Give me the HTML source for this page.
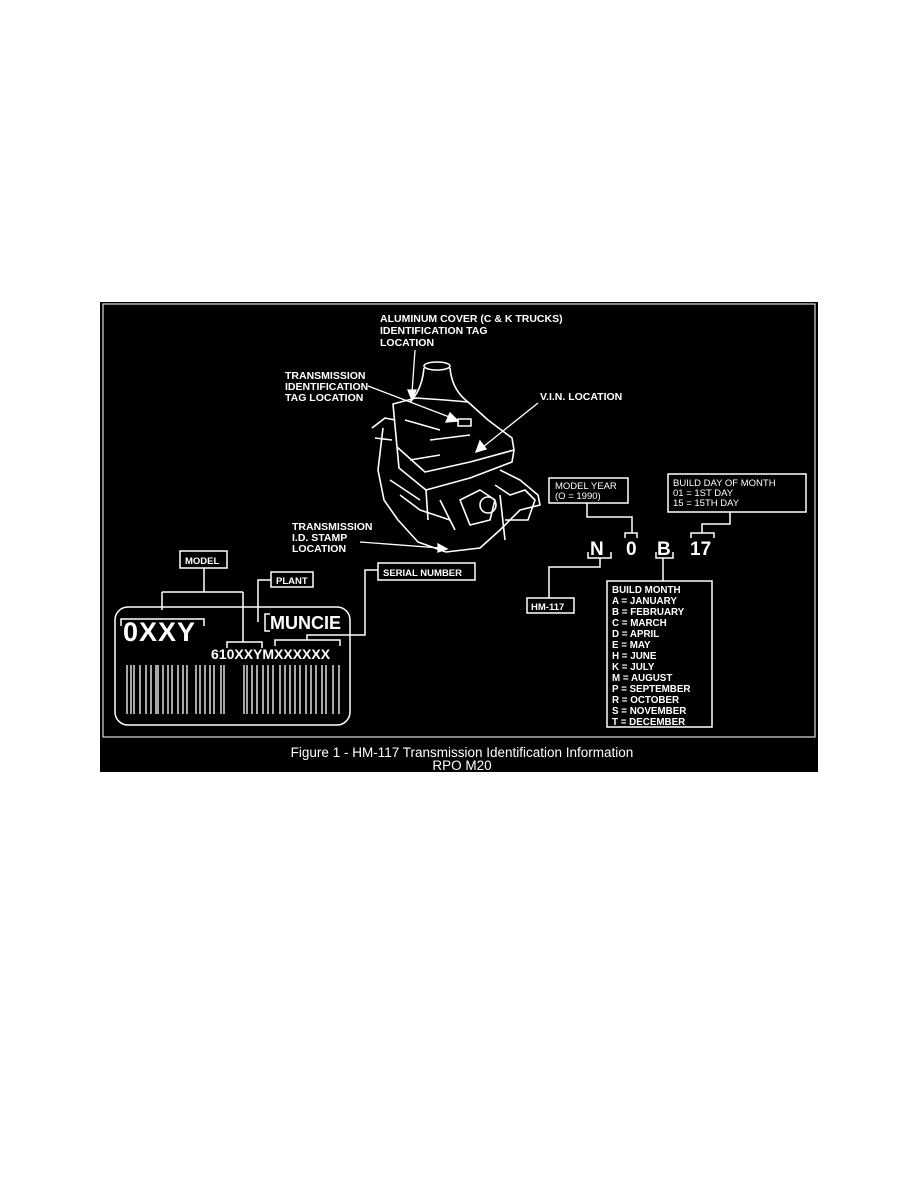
<!DOCTYPE html>
<html><head><meta charset="utf-8">
<style>
html,body{margin:0;padding:0;background:#fff;width:918px;height:1188px;overflow:hidden}
svg{position:absolute;left:0;top:0}
text{font-family:"Liberation Sans",Arial,sans-serif;fill:#fff}
</style></head><body>
<svg width="918" height="1188" viewBox="0 0 918 1188">
<rect x="100" y="302" width="718" height="470" fill="#000"/>
<g fill="none" stroke="#fff">
<rect x="103" y="304" width="712" height="433" stroke-width="1.2" stroke="#ddd"/>
</g>
<g font-size="10.5" font-weight="bold">
<text x="380" y="322">ALUMINUM COVER (C &amp; K TRUCKS)</text>
<text x="380" y="334">IDENTIFICATION TAG</text>
<text x="380" y="346">LOCATION</text>
<text x="285" y="379">TRANSMISSION</text>
<text x="285" y="390">IDENTIFICATION</text>
<text x="285" y="401">TAG LOCATION</text>
<text x="540" y="400">V.I.N. LOCATION</text>
<text x="292" y="530">TRANSMISSION</text>
<text x="292" y="541">I.D. STAMP</text>
<text x="292" y="552">LOCATION</text>
</g>
<g fill="none" stroke="#fff" stroke-width="1.6" stroke-linejoin="round">
<ellipse cx="437" cy="366" rx="13" ry="4"/>
<path d="M424 368 Q422 390 410 402 M450 368 Q452 390 468 402"/>
<path d="M393 404 L416 398 L445 400 L468 402 L488 420 L512 438 L514 450 L470 462 L425 472 L397 447 Z"/>
<path d="M397 447 L399 468 L426 490 L470 478 L512 462 L514 450"/>
<path d="M426 490 L428 520"/>
<path d="M383 428 L378 470 L384 500 L398 520 L418 542 L446 552 L480 548 L500 530 L520 510 L540 505 L538 495 L520 480 L500 470"/>
<path d="M372 428 L385 418 L395 420 M375 438 L392 440"/>
<path d="M460 500 L480 490 L495 500 L490 520 L470 525 Z"/>
<path d="M495 485 L510 495 L525 490 L535 500 L528 520 L505 520"/>
<path d="M400 495 L420 510 L450 520"/>
<path d="M405 420 L440 430 M430 440 L470 435 M410 460 L440 455 M390 480 L420 500 M440 500 L455 530 M500 495 L505 540"/>
<circle cx="488" cy="505" r="8"/>
<rect x="458" y="419" width="13" height="7"/>
</g>
<g stroke="#fff" stroke-width="1.3" fill="#fff">
<line x1="415" y1="350" x2="412" y2="393"/><polygon points="408,390 416,390 412,400"/>
<line x1="368" y1="386" x2="452" y2="418"/><polygon points="450,413 458,421 446,422"/>
<line x1="538" y1="403" x2="483" y2="447"/><polygon points="480,441 486,449 476,452"/>
<line x1="360" y1="542" x2="440" y2="548"/><polygon points="438,544 438,552 447,549"/>
</g>
<g fill="none" stroke="#fff" stroke-width="1.5">
<rect x="180" y="551" width="47" height="17"/>
<rect x="271" y="572" width="42" height="15"/>
<rect x="378" y="563" width="97" height="17"/>
<path d="M204 568 V592 M162 592 H243 M162 592 V610 M243 592 V642"/>
<path d="M121 626 V619 H204 V626"/>
<path d="M227 648 V642 H262 V648"/>
<path d="M271 580 H258 V622"/>
<path d="M270 614 H265 V631 H270"/>
<path d="M378 570 H365 V635 H307 V640 M275 646 V640 H340 V646"/>
<rect x="115" y="607" width="235" height="118" rx="13"/>
</g>
<g font-weight="bold">
<text x="185" y="564" font-size="9.5">MODEL</text>
<text x="276" y="584" font-size="9.5">PLANT</text>
<text x="383" y="576" font-size="9.5">SERIAL NUMBER</text>
<text x="123" y="641" font-size="27" letter-spacing="1">0XXY</text>
<text x="270" y="629" font-size="18">MUNCIE</text>
<text x="211" y="659" font-size="14">610XXYMXXXXXX</text>
</g>
<g stroke="#fff" stroke-width="1.3">
<path d="M127 665V714M131 665V714M134 665V714M140 665V714M146 665V714M151 665V714M156 665V714M158 665V714M163 665V714M168 665V714M172 665V714M178 665V714M183 665V714M187 665V714M196 665V714M200 665V714M205 665V714M210 665V714M214 665V714M221 665V714M224 665V714M244 665V714M247 665V714M252 665V714M257 665V714M263 665V714M268 665V714M273 665V714M280 665V714M285 665V714M290 665V714M295 665V714M300 665V714M306 665V714M311 665V714M316 665V714M322 665V714M326 665V714M333 665V714M339 665V714"/>
</g>
<g fill="none" stroke="#fff" stroke-width="1.5">
<rect x="549" y="478" width="79" height="25"/>
<rect x="668" y="474" width="138" height="38"/>
<rect x="527" y="598" width="47" height="15"/>
<rect x="607" y="581" width="105" height="146"/>
<path d="M587 503 V517 H632 V533 M625 538 V533 H637 V538"/>
<path d="M730 512 V524 H702 V533 M691 538 V533 H714 V538"/>
<path d="M588 552 V558 H611 V552 M600 558 V567 H549 V598"/>
<path d="M656 552 V558 H673 V552 M663 558 V581"/>
</g>
<g font-weight="bold" font-size="19">
<text x="590" y="555">N</text><text x="626" y="555">0</text><text x="657" y="555">B</text><text x="690" y="555">17</text>
</g>
<g font-size="9.5">
<text x="555" y="489">MODEL YEAR</text>
<text x="555" y="499">(O = 1990)</text>
<text x="673" y="486">BUILD DAY OF MONTH</text>
<text x="673" y="496">01 = 1ST DAY</text>
<text x="673" y="506">15 = 15TH DAY</text>
<text x="531" y="610" font-weight="bold">HM-117</text>
</g>
<g font-size="9.8" font-weight="bold">
<text x="612" y="593">BUILD MONTH</text>
<text x="612" y="604">A = JANUARY</text>
<text x="612" y="615">B = FEBRUARY</text>
<text x="612" y="626">C = MARCH</text>
<text x="612" y="637">D = APRIL</text>
<text x="612" y="648">E = MAY</text>
<text x="612" y="659">H = JUNE</text>
<text x="612" y="670">K = JULY</text>
<text x="612" y="681">M = AUGUST</text>
<text x="612" y="692">P = SEPTEMBER</text>
<text x="612" y="703">R = OCTOBER</text>
<text x="612" y="714">S = NOVEMBER</text>
<text x="612" y="725">T = DECEMBER</text>
</g>
<g font-size="13.5" text-anchor="middle">
<text x="462" y="757">Figure 1 - HM-117 Transmission Identification Information</text>
<text x="462" y="770">RPO M20</text>
</g>
</svg>
</body></html>
